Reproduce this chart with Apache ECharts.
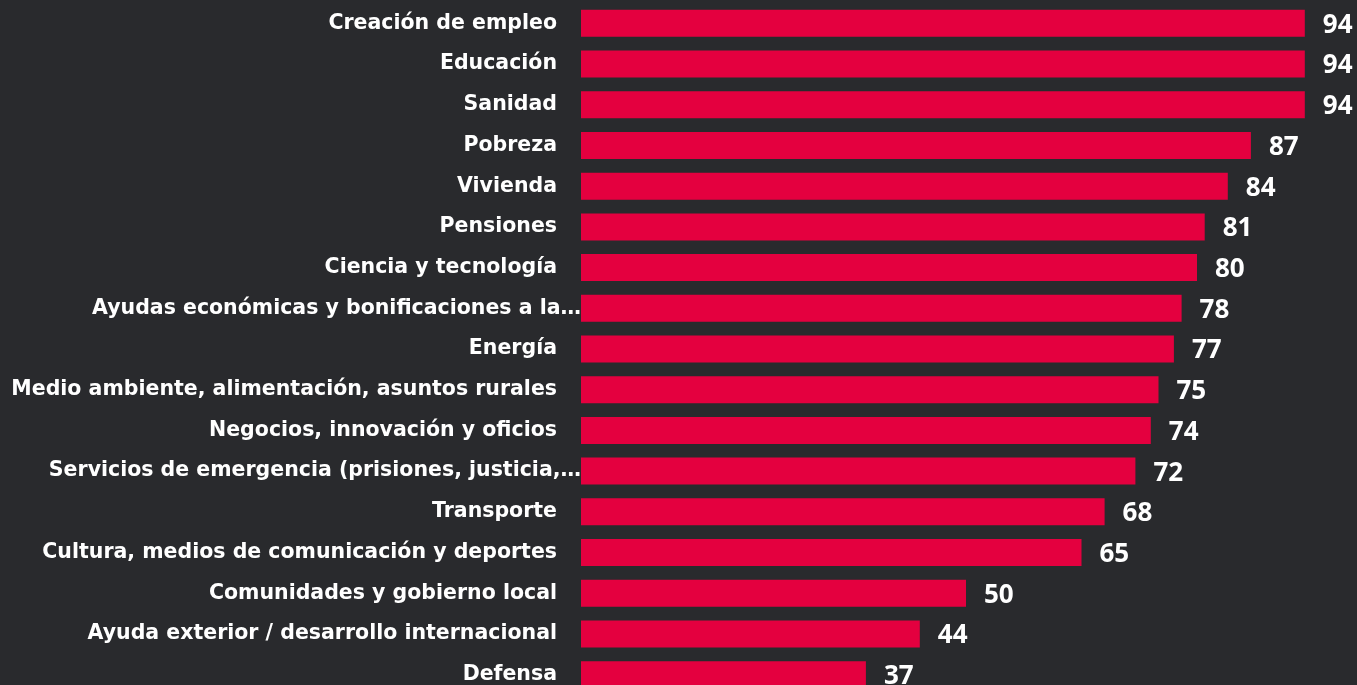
<!DOCTYPE html>
<html>
<head>
<meta charset="utf-8">
<script src="https://cdn.jsdelivr.net/npm/echarts@6/dist/echarts.min.js"></script>
<style>
  html, body { margin: 0; padding: 0; background: #292a2d; overflow: hidden; }
  /* chart is a bit taller than the window: last bar is cut off at the bottom */
  #main { width: 1357px; height: 695px; }
</style>
</head>
<body>
<div id="main"></div>
<script>
var categories = [
  'Creación de empleo',
  'Educación',
  'Sanidad',
  'Pobreza',
  'Vivienda',
  'Pensiones',
  'Ciencia y tecnología',
  'Ayudas económicas y bonificaciones a la…',
  'Energía',
  'Medio ambiente, alimentación, asuntos rurales',
  'Negocios, innovación y oficios',
  'Servicios de emergencia (prisiones, justicia,…',
  'Transporte',
  'Cultura, medios de comunicación y deportes',
  'Comunidades y gobierno local',
  'Ayuda exterior / desarrollo internacional',
  'Defensa'
]
var values = [94, 94, 94, 87, 84, 81, 80, 78, 77, 75, 74, 72, 68, 65, 50, 44, 37]

var chart = echarts.init(document.getElementById('main'))

var option = {
  backgroundColor: '#292a2d',
  animation: false,
  grid: {
    left: 581,
    right: 6,
    top: 3,
    bottom: 0
  },
  xAxis: {
    type: 'value',
    min: 0,
    max: 100,
    show: false
  },
  yAxis: {
    type: 'category',
    inverse: true,
    data: categories.map(function (c) {
      // truncated labels run up to the bar edge
      if (c.slice(-1) === '…') {
        return { value: c, textStyle: { padding: [6, -24, 0, 0] } }
      }
      return c
    }),
    axisLine: { show: false },
    axisTick: { show: false },
    axisLabel: {
      color: '#ffffff',
      fontFamily: '"DejaVu Sans", sans-serif',
      fontWeight: 'bold',
      fontSize: 20.5,
      margin: 24,
      padding: [6, 0, 0, 0]
    }
  },
  series: [
    {
      type: 'bar',
      data: values,
      barWidth: 27,
      itemStyle: { color: '#e4003f' },
      label: {
        show: true,
        position: 'right',
        distance: 18,
        offset: [0, 2],
        color: '#ffffff',
        fontFamily: '"Open Sans", sans-serif',
        fontWeight: 'bold',
        fontSize: 26
      }
    }
  ]
}
chart.setOption(option)
</script>
</body>
</html>
